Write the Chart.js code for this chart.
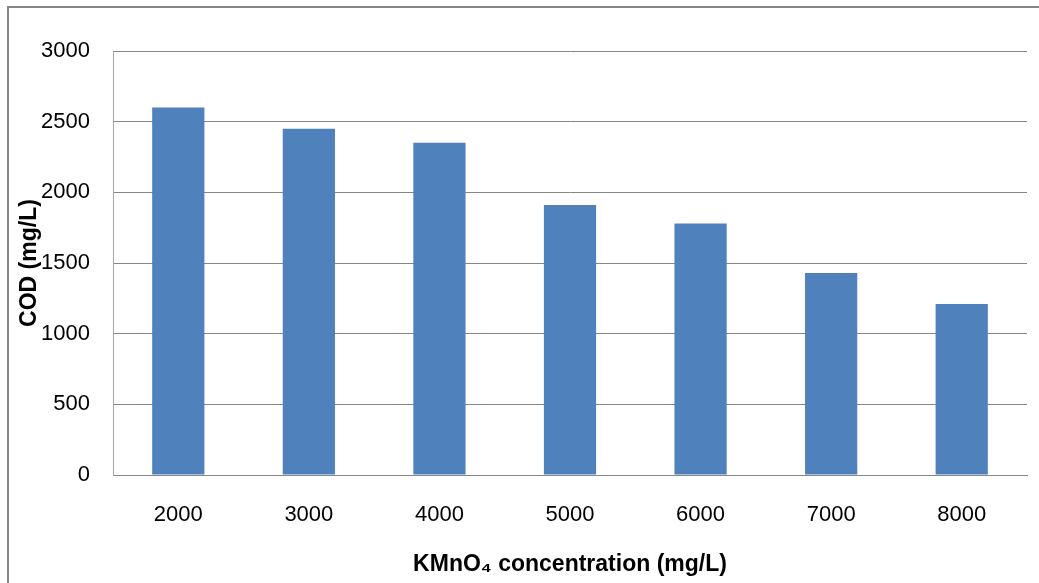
<!DOCTYPE html>
<html>
<head>
<meta charset="utf-8">
<title>COD vs KMnO4 concentration</title>
<script src="https://cdn.jsdelivr.net/npm/chart.js@4.4.0/dist/chart.umd.min.js"></script>
<style>
    html, body { margin: 0; padding: 0; background: #fff; }
    #chart { display: block; }
</style>
</head>
<body>
<canvas id="chart" width="1039" height="583"></canvas>
<script>
// KMnO4 dose (mg/L) and resulting COD (mg/L)
const concentrations = ['2000', '3000', '4000', '5000', '6000', '7000', '8000'];
const codValues = [2600, 2450, 2350, 1910, 1780, 1430, 1210];
const yTicks = [0, 500, 1000, 1500, 2000, 2500, 3000];

const fontFamily = '"Liberation Sans", Arial, sans-serif';

// Outer chart frame (left and top edges only)
const framePlugin = {
    id: 'frame',
    beforeDraw(chart) {
        const ctx = chart.ctx;
        ctx.save();
        ctx.strokeStyle = '#868686';
        ctx.lineWidth = 2;
        ctx.beginPath();
        ctx.moveTo(8, chart.height);
        ctx.lineTo(8, 7);
        ctx.lineTo(chart.width, 7);
        ctx.stroke();
        ctx.restore();
    }
};

new Chart(document.getElementById('chart').getContext('2d'), {
    type: 'bar',
    data: {
        labels: concentrations,
        datasets: [{
            label: 'COD',
            data: codValues,
            backgroundColor: '#4F81BD',
            categoryPercentage: 1,
            barPercentage: 0.4
        }]
    },
    options: {
        responsive: false,
        devicePixelRatio: 1,
        animation: false,
        layout: { padding: { top: 51, right: 12, left: 0, bottom: 0 } },
        plugins: {
            legend: { display: false },
            tooltip: { enabled: false }
        },
        scales: {
            x: {
                grid: { display: false },
                border: { color: '#868686', width: 1 },
                ticks: {
                    color: '#000',
                    padding: 19,
                    font: { family: fontFamily, size: 22 }
                },
                title: {
                    display: true,
                    text: 'KMnO₄ concentration (mg/L)',
                    color: '#000',
                    padding: { top: 0, bottom: 5 },
                    font: { family: fontFamily, size: 23, weight: 'bold' }
                },
                afterFit(scale) { scale.height = 108; }
            },
            y: {
                min: 0,
                max: 3000,
                afterBuildTicks(scale) {
                    scale.ticks = yTicks.map(v => ({ value: v }));
                },
                grid: { color: '#868686', lineWidth: 1, drawTicks: false },
                border: { color: '#a6a6a6', width: 1 },
                ticks: {
                    color: '#000',
                    padding: 23,
                    font: { family: fontFamily, size: 22 },
                    callback: value => String(value)
                },
                title: {
                    display: true,
                    text: 'COD (mg/L)',
                    color: '#000',
                    padding: { top: 16, bottom: 0 },
                    font: { family: fontFamily, size: 23, weight: 'bold' }
                },
                afterFit(scale) { scale.width = 113; }
            }
        }
    },
    plugins: [framePlugin]
});
</script>
</body>
</html>
